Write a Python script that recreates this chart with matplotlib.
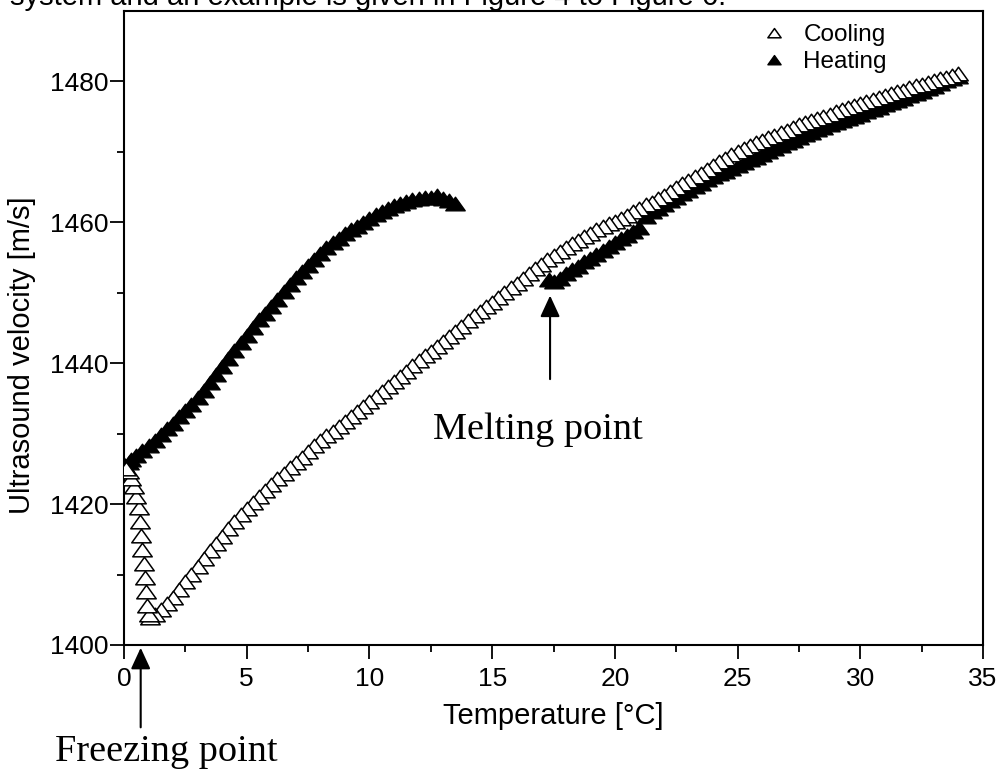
import matplotlib
matplotlib.use("Agg")
import matplotlib.pyplot as plt
from matplotlib.path import Path

# cooling run (open triangles), from 34 degC down
cool_t = [34.0, 33.75, 33.5, 33.25, 33.0, 32.75, 32.5, 32.25, 32.0, 31.75,
          31.5, 31.25, 31.0, 30.75, 30.5, 30.25, 30.0, 29.75, 29.5, 29.25,
          29.0, 28.75, 28.5, 28.25, 28.0, 27.75, 27.5, 27.25, 27.0, 26.75,
          26.5, 26.25, 26.0, 25.75, 25.5, 25.25, 25.0, 24.75, 24.5, 24.25,
          24.0, 23.75, 23.5, 23.25, 23.0, 22.75, 22.5, 22.25, 22.0, 21.75,
          21.5, 21.25, 21.0, 20.75, 20.5, 20.25, 20.0, 19.75, 19.5, 19.25,
          19.0, 18.75, 18.5, 18.25, 18.0, 17.75, 17.5, 17.25, 17.0, 16.75,
          16.5, 16.25, 16.0, 15.75, 15.5, 15.25, 15.0, 14.75, 14.5, 14.25,
          14.0, 13.75, 13.5, 13.25, 13.0, 12.75, 12.5, 12.25, 12.0, 11.75,
          11.5, 11.25, 11.0, 10.75, 10.5, 10.25, 10.0, 9.75, 9.5, 9.25,
          9.0, 8.75, 8.5, 8.25, 8.0, 7.75, 7.5, 7.25, 7.0, 6.75,
          6.5, 6.25, 6.0, 5.75, 5.5, 5.25, 5.0, 4.75, 4.5, 4.25,
          4.0, 3.75, 3.5, 3.25, 3.0, 2.75, 2.5, 2.25, 2.0, 1.75,
          1.5, 1.25, 1.05, 1.0, 0.95, 0.9, 0.85, 0.8, 0.75, 0.7,
          0.65, 0.6, 0.5, 0.4, 0.3, 0.2, 0.1]
cool_v = [1481.0, 1480.8, 1480.5, 1480.3, 1480.0, 1479.8, 1479.5, 1479.3, 1479.0, 1478.7,
          1478.5, 1478.2, 1477.9, 1477.6, 1477.3, 1477.1, 1476.8, 1476.5, 1476.2, 1476.0,
          1475.7, 1475.3, 1475.0, 1474.7, 1474.4, 1474.1, 1473.8, 1473.4, 1473.0, 1472.7,
          1472.3, 1472.0, 1471.6, 1471.2, 1470.8, 1470.4, 1470.0, 1469.5, 1469.0, 1468.5,
          1468.0, 1467.4, 1466.9, 1466.4, 1465.9, 1465.4, 1464.9, 1464.3, 1463.8, 1463.3,
          1462.8, 1462.4, 1461.9, 1461.4, 1460.9, 1460.5, 1460.0, 1459.7, 1459.4, 1458.9,
          1458.4, 1457.9, 1457.4, 1456.9, 1456.4, 1455.8, 1455.2, 1454.6, 1454.0, 1453.4,
          1452.7, 1452.0, 1451.3, 1450.7, 1450.0, 1449.3, 1448.6, 1448.0, 1447.3, 1446.7,
          1446.0, 1445.2, 1444.4, 1443.7, 1443.0, 1442.3, 1441.6, 1441.0, 1440.3, 1439.6,
          1438.8, 1438.0, 1437.3, 1436.6, 1435.9, 1435.2, 1434.5, 1433.8, 1433.1, 1432.4,
          1431.7, 1431.0, 1430.3, 1429.6, 1428.9, 1428.2, 1427.4, 1426.6, 1425.8, 1425.1,
          1424.3, 1423.5, 1422.7, 1421.9, 1421.0, 1420.2, 1419.3, 1418.4, 1417.4, 1416.4,
          1415.4, 1414.4, 1413.3, 1412.2, 1411.1, 1410.0, 1408.9, 1407.8, 1406.7, 1405.8,
          1405.0, 1404.3, 1403.9, 1404.2, 1405.5, 1407.5, 1409.5, 1411.5, 1413.5, 1415.5,
          1417.5, 1419.5, 1421.0, 1422.5, 1423.5, 1424.5, 1425.0]

# heating run (filled triangles), frozen part then liquid part after melting
heat_t = [-0.1, 0.0, 0.1, 0.2, 0.3, 0.5, 0.75, 1.0, 1.25, 1.5,
          1.75, 2.0, 2.25, 2.5, 2.75, 3.0, 3.25, 3.5, 3.75, 4.0,
          4.25, 4.5, 4.75, 5.0, 5.25, 5.5, 5.75, 6.0, 6.25, 6.5,
          6.75, 7.0, 7.25, 7.5, 7.75, 8.0, 8.25, 8.5, 8.75, 9.0,
          9.25, 9.5, 9.75, 10.0, 10.25, 10.5, 10.75, 11.0, 11.25, 11.5,
          11.75, 12.0, 12.25, 12.5, 12.75, 13.0, 13.25, 13.5,
          17.3, 17.5, 17.75, 18.0, 18.25, 18.5, 18.75, 19.0, 19.25, 19.5,
          19.75, 20.0, 20.25, 20.5, 20.75, 21.0, 21.25, 21.5, 21.75, 22.0,
          22.25, 22.5, 22.75, 23.0, 23.25, 23.5, 23.75, 24.0, 24.25, 24.5,
          24.75, 25.0, 25.25, 25.5, 25.75, 26.0, 26.25, 26.5, 26.75, 27.0,
          27.25, 27.5, 27.75, 28.0, 28.25, 28.5, 28.75, 29.0, 29.25, 29.5,
          29.75, 30.0, 30.25, 30.5, 30.75, 31.0, 31.25, 31.5, 31.75, 32.0,
          32.25, 32.5, 32.75, 33.0, 33.25, 33.5, 33.75, 34.0]
heat_v = [1425.2, 1425.5, 1425.0, 1425.8, 1426.2, 1426.8, 1427.5, 1428.3, 1429.0, 1429.8,
          1430.6, 1431.4, 1432.3, 1433.2, 1434.0, 1435.0, 1436.0, 1437.2, 1438.3, 1439.5,
          1440.6, 1441.7, 1442.8, 1443.9, 1445.0, 1446.1, 1447.0, 1448.0, 1449.0, 1450.1,
          1451.1, 1452.1, 1452.9, 1453.8, 1454.6, 1455.5, 1456.3, 1457.0, 1457.6, 1458.3,
          1458.9, 1459.4, 1459.9, 1460.5, 1461.0, 1461.4, 1461.9, 1462.3, 1462.6, 1462.9,
          1463.2, 1463.3, 1463.5, 1463.4, 1463.7, 1463.3, 1463.0, 1462.6,
          1451.8, 1451.5, 1452.0, 1452.6, 1453.2, 1453.7, 1454.3, 1454.8, 1455.4, 1455.9,
          1456.5, 1457.0, 1457.6, 1458.1, 1458.6, 1459.2, 1460.8, 1461.4, 1461.9, 1462.5,
          1463.0, 1463.5, 1464.0, 1464.5, 1465.0, 1465.5, 1466.0, 1466.4, 1466.8, 1467.2,
          1467.6, 1468.0, 1468.4, 1468.8, 1469.2, 1469.6, 1470.0, 1470.4, 1470.8, 1471.2,
          1471.6, 1472.0, 1472.4, 1472.7, 1473.1, 1473.4, 1473.8, 1474.1, 1474.4, 1474.7,
          1475.0, 1475.3, 1475.6, 1475.9, 1476.3, 1476.6, 1476.9, 1477.2, 1477.5, 1477.9,
          1478.2, 1478.5, 1478.9, 1479.2, 1479.6, 1480.0, 1480.4, 1480.7]

x_ticks = [0, 5, 10, 15, 20, 25, 30, 35]
y_ticks = [1400, 1420, 1440, 1460, 1480]

plt.rcParams['font.family'] = ['Liberation Sans', 'DejaVu Sans']

# flat triangle like the original instrument software
tri = Path([(-1.0, -0.65), (1.0, -0.65), (0.0, 0.75), (-1.0, -0.65)],
           [Path.MOVETO, Path.LINETO, Path.LINETO, Path.CLOSEPOLY])

fig = plt.figure(figsize=(10.01, 7.73), dpi=100)
ax = fig.add_axes([124 / 1001, 1 - 645 / 773, (983 - 124) / 1001, (645 - 11) / 773])

ax.plot(heat_t, heat_v, linestyle='none', marker=tri, markersize=14,
        markerfacecolor='black', markeredgecolor='black', markeredgewidth=1.0,
        label='Heating', zorder=3)
ax.plot(cool_t, cool_v, linestyle='none', marker=tri, markersize=14,
        markerfacecolor='white', markeredgecolor='black', markeredgewidth=1.1,
        label='Cooling', zorder=4)

ax.set_xlim(0, 35)
ax.set_ylim(1400, 1490)
ax.set_xticks(x_ticks)
ax.set_yticks(y_ticks)
ax.set_xticks([2.5, 7.5, 12.5, 17.5, 22.5, 27.5, 32.5], minor=True)
ax.set_yticks([1410, 1430, 1450, 1470], minor=True)
ax.tick_params(which='major', direction='out', length=10, width=1.3,
               labelsize=19, pad=6)
ax.tick_params(axis='y', which='major', pad=1)
ax.tick_params(which='minor', direction='out', length=5, width=1.3)
for s in ax.spines.values():
    s.set_linewidth(1.5)

ax.set_xlabel('Temperature [°C]', fontsize=21, labelpad=8)
fig.text(22 / 1001, 1 - 355 / 773, 'Ultrasound velocity [m/s]', rotation=90,
         ha='center', va='center', fontsize=21)

h, l = ax.get_legend_handles_labels()
ax.legend([h[1], h[0]], [l[1], l[0]], loc='upper left',
          bbox_to_anchor=(762 / 1001, 1 - 24 / 773), bbox_transform=fig.transFigure,
          frameon=False, borderpad=0, borderaxespad=0, handlelength=1.0,
          handletextpad=0.7, labelspacing=0.22, fontsize=17.5, markerscale=0.68)

# annotations
ax.annotate('', xy=(0.68, 1400), xytext=(0.68, 1400 - 85 / 7.035),
            arrowprops=dict(arrowstyle='-|>,head_length=0.65,head_width=0.3',
                            color='black', lw=1.5, mutation_scale=20),
            annotation_clip=False)
fig.text(166 / 1001, 1 - 752 / 773, 'Freezing point', family='Liberation Serif',
         fontsize=27.5, ha='center', va='center')
ax.annotate('', xy=(17.36, 1450), xytext=(17.36, 1450 - 89 / 7.035),
            arrowprops=dict(arrowstyle='-|>,head_length=0.65,head_width=0.3',
                            color='black', lw=1.5, mutation_scale=20))
fig.text(538 / 1001, 1 - 430 / 773, 'Melting point', family='Liberation Serif',
         fontsize=27.5, ha='center', va='center')

# line of page text above the chart, cut by the top edge as in the scan
fig.text(10 / 1001, 1 - 5 / 773, 'system and an example is given in Figure 4 to Figure 6.',
         fontsize=21, ha='left', va='baseline')

fig.savefig('out.png', dpi=100)
